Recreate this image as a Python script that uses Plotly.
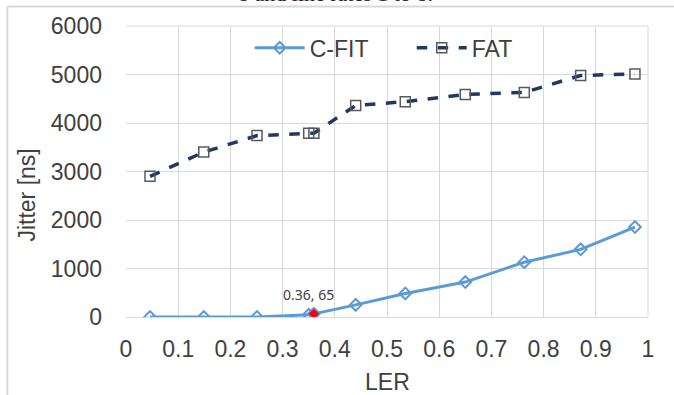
import plotly.graph_objects as go

# ---- data ----
ler_cfit = [0.046, 0.149, 0.251, 0.35, 0.36, 0.44, 0.535, 0.65, 0.763, 0.871, 0.975]
jitter_cfit = [0, 0, 0, 45, 65, 250, 485, 720, 1130, 1395, 1855]
ler_fat = [0.046, 0.149, 0.251, 0.35, 0.36, 0.44, 0.535, 0.65, 0.763, 0.871, 0.975]
jitter_fat = [2900, 3400, 3740, 3790, 3790, 4360, 4440, 4590, 4630, 4980, 5010]
highlight_x = [0.36]
highlight_y = [65]
highlight_label = "0.36, 65"
x_ticks = [0, 0.1, 0.2, 0.3, 0.4, 0.5, 0.6, 0.7, 0.8, 0.9, 1]
x_tick_text = ["0", "0.1", "0.2", "0.3", "0.4", "0.5", "0.6", "0.7", "0.8", "0.9", "1"]
y_ticks = [0, 1000, 2000, 3000, 4000, 5000, 6000]

FONT = "Liberation Sans, Arial, sans-serif"
TXT = "#404040"
GRID = "#d9d9d9"

fig = go.Figure()
fig.add_trace(go.Scatter(
    x=ler_cfit, y=jitter_cfit, name="C-FIT", mode="lines+markers",
    line=dict(color="#5B9BD5", width=3),
    marker=dict(symbol="diamond-open", size=9, color="#5B9BD5", line=dict(width=2)),
))
fig.add_trace(go.Scatter(
    x=ler_fat, y=jitter_fat, name="FAT", mode="lines+markers",
    line=dict(color="#1F3864", width=3.5, dash="dash"),
    marker=dict(symbol="square-open", size=10, color="#595959", line=dict(width=1.5)),
))
fig.add_trace(go.Scatter(
    x=highlight_x, y=highlight_y, mode="markers", showlegend=False,
    marker=dict(symbol="diamond", size=8, color="#FF0000"),
))
fig.add_annotation(x=highlight_x[0], y=highlight_y[0], xref="x", yref="y",
                   text=highlight_label, showarrow=False, yshift=19, xshift=-5,
                   font=dict(family="Noto Sans, DejaVu Sans", size=14, color=TXT))

# axis titles
fig.add_annotation(x=0.5, y=-0.224, xref="paper", yref="paper", text="LER",
                   showarrow=False, yanchor="middle",
                   font=dict(family=FONT, size=23, color=TXT))
fig.add_annotation(x=-0.19, y=0.42, xref="paper", yref="paper", text="Jitter [ns]",
                   showarrow=False, textangle=-90, xanchor="center", yanchor="middle",
                   font=dict(family=FONT, size=23, color=TXT))
# clipped caption at very top (as in the reference)
fig.add_annotation(x=0.402, y=1.067, xref="paper", yref="paper",
                   text="8 and line rates 1 to 8.", showarrow=False,
                   yanchor="bottom", yshift=-1,
                   font=dict(family="Liberation Serif, serif", size=22, color="#222222"))

# outer frame (left and top edges)
fig.add_shape(type="line", xref="paper", yref="paper", x0=-0.2273, x1=1.1, y0=1.067, y1=1.067,
              line=dict(color=GRID, width=2))
fig.add_shape(type="line", xref="paper", yref="paper", x0=-0.2273, x1=-0.2273, y0=-0.3, y1=1.067,
              line=dict(color=GRID, width=2))

fig.update_layout(
    width=674, height=395,
    margin=dict(l=126, r=26, t=25.5, b=78.3),
    plot_bgcolor="white", paper_bgcolor="white",
    font=dict(family=FONT, size=23, color=TXT),
    showlegend=True,
    legend=dict(orientation="h", x=0.237, y=0.925, xanchor="left", yanchor="middle",
                bgcolor="rgba(0,0,0,0)", font=dict(size=23, color=TXT),
                entrywidth=97, itemwidth=50),
    xaxis=dict(range=[0, 1], tickvals=x_ticks, ticktext=x_tick_text,
               showgrid=True, gridcolor=GRID, gridwidth=1,
               showline=True, linecolor=GRID, zeroline=False,
               ticks="", ticklabelstandoff=11,
               tickfont=dict(size=23, color=TXT)),
    yaxis=dict(range=[0, 6000], tickvals=y_ticks,
               showgrid=True, gridcolor=GRID, gridwidth=1,
               showline=False, zeroline=False,
               ticks="", ticklabelstandoff=23,
               tickfont=dict(size=23, color=TXT)),
)
fig.add_shape(type="line", xref="paper", yref="paper", x0=1, x1=1, y0=0, y1=1,
              line=dict(color=GRID, width=1))
fig.add_shape(type="line", xref="paper", yref="paper", x0=0, x1=1, y0=1, y1=1,
              line=dict(color=GRID, width=1))

fig.write_html("out.html", config={"displayModeBar": False},
               post_script="document.body.style.margin='0';")
